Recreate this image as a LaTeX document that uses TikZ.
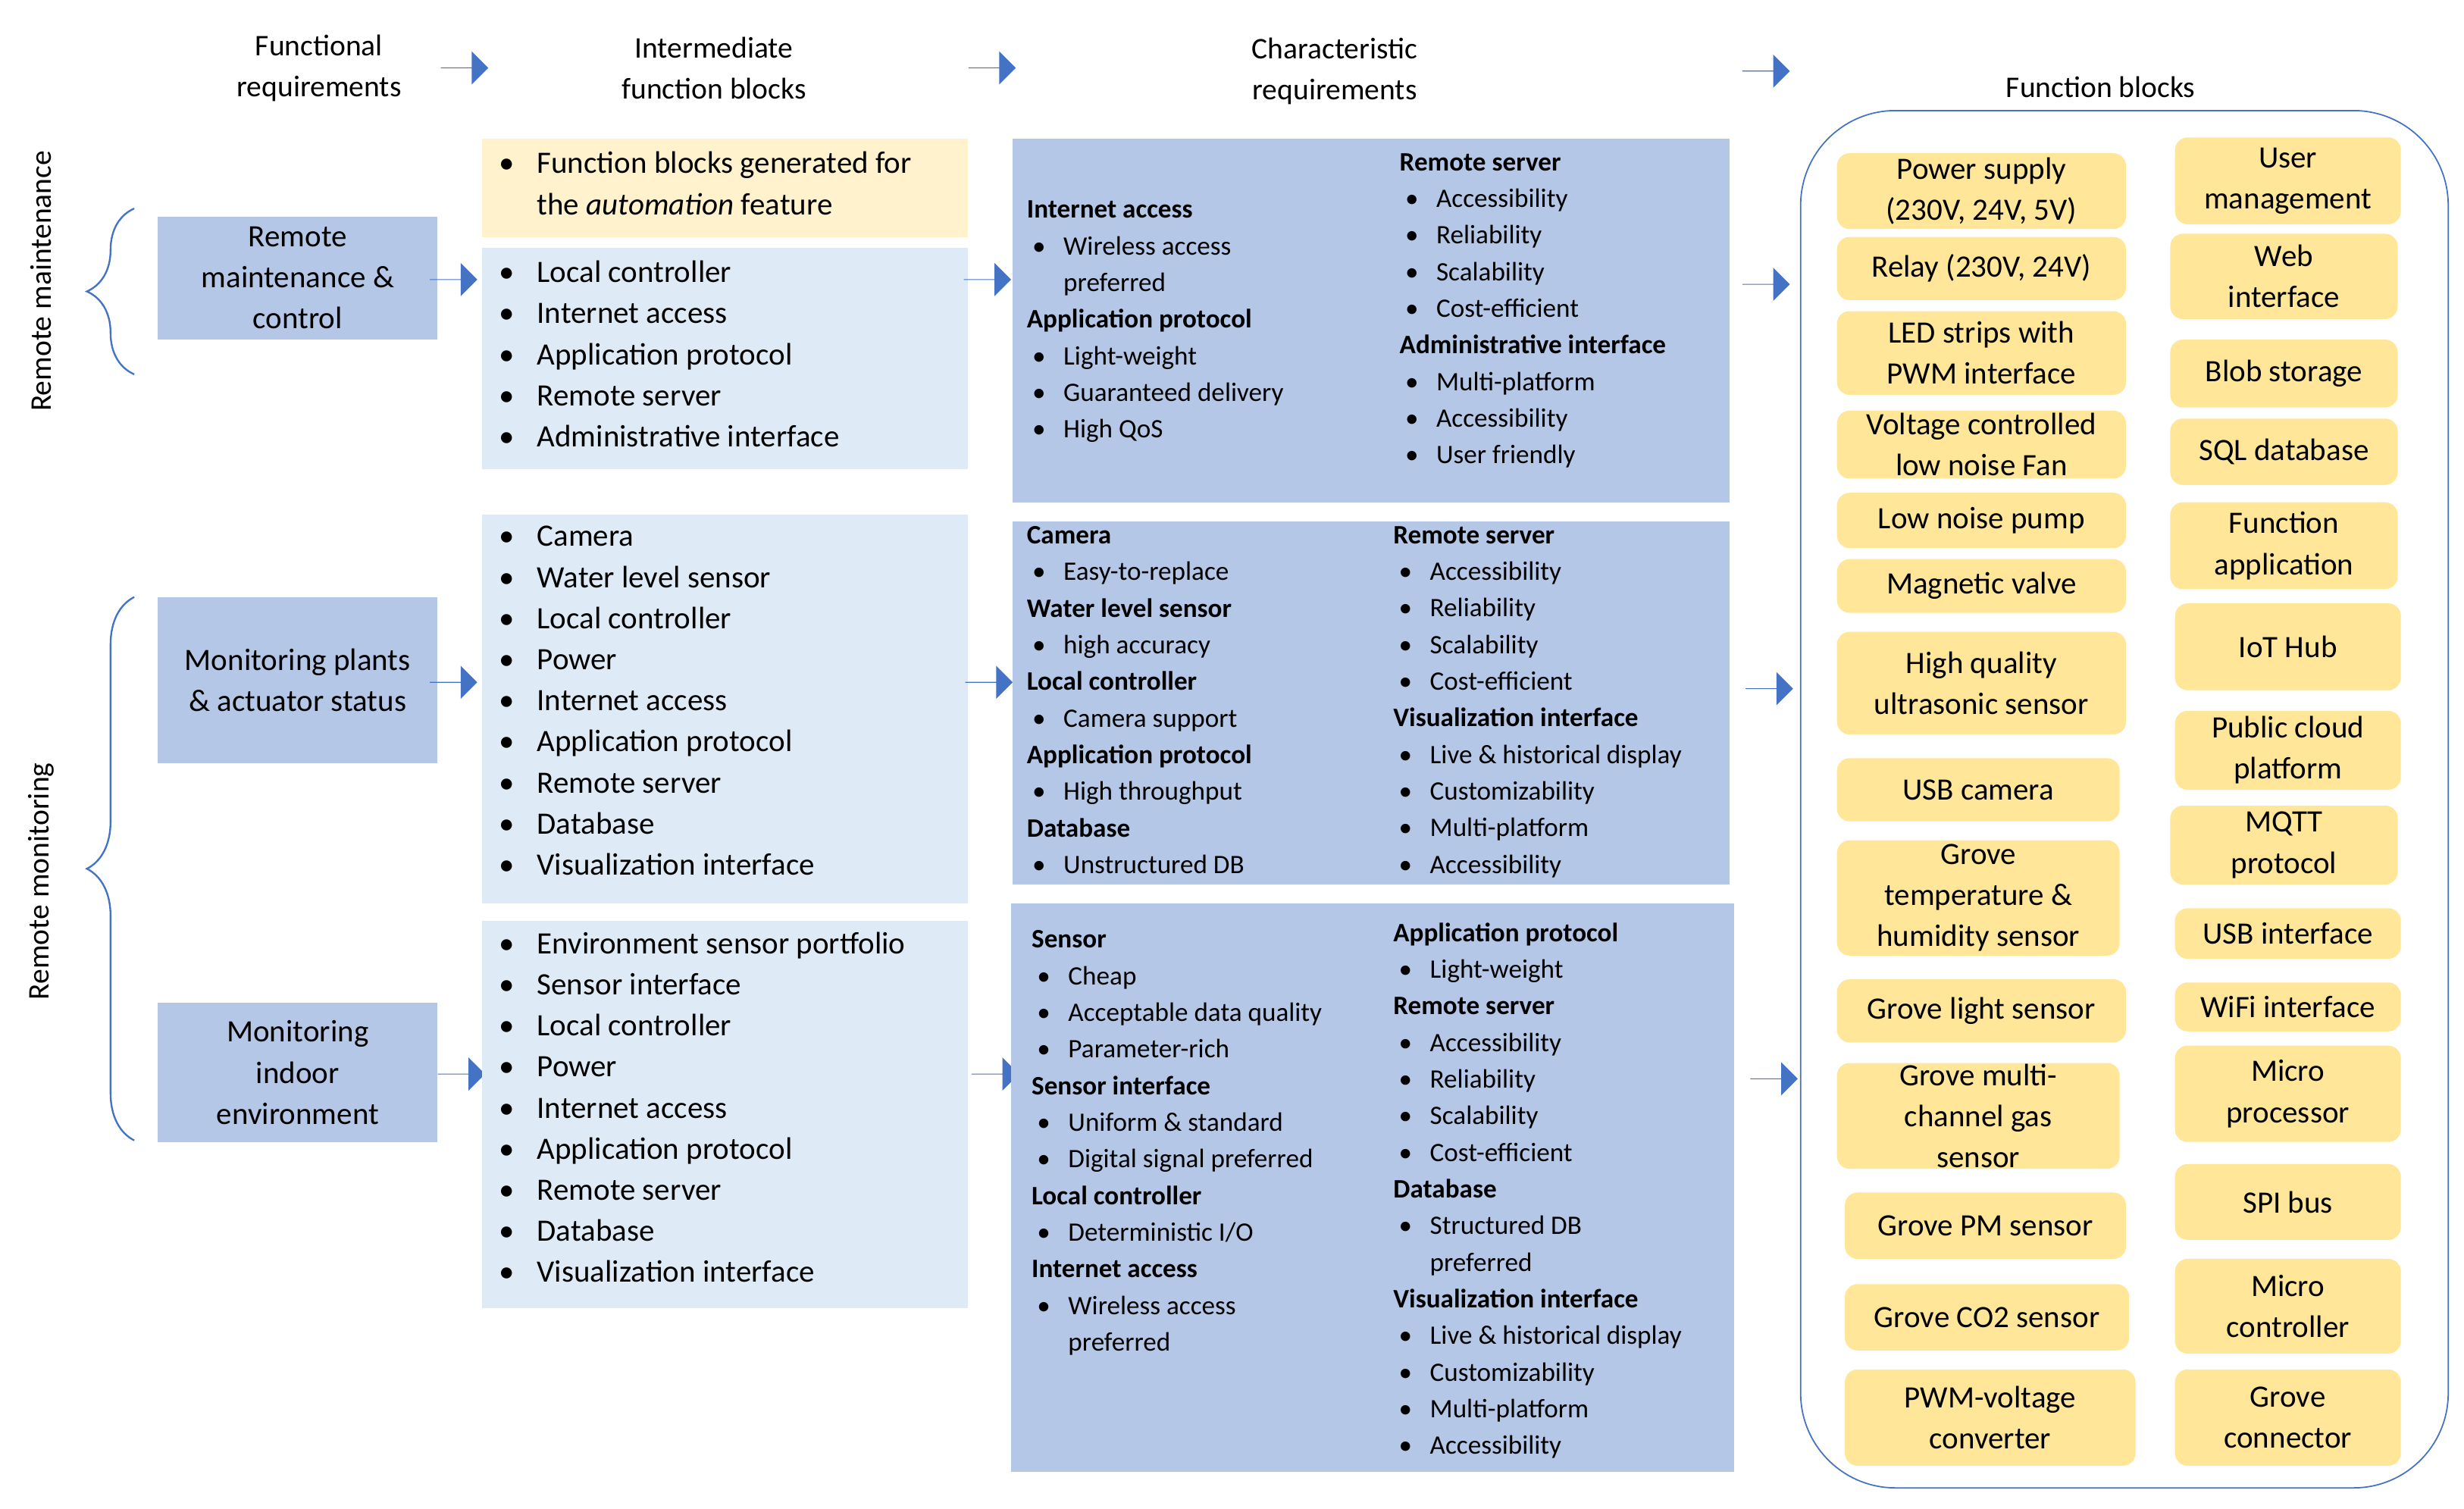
\documentclass[tikz,border=0pt]{standalone}
\usepackage{fontspec}
\setmainfont{Carlito}
\usetikzlibrary{shapes.arrows,decorations.pathreplacing}
\definecolor{arr}{HTML}{4472C4}
\definecolor{midb}{HTML}{B4C7E7}
\definecolor{lightb}{HTML}{DEEBF7}
\definecolor{lighty}{HTML}{FFF2CC}
\definecolor{fby}{HTML}{FFE699}
\newcommand\bi{\hspace*{5pt}\makebox[28pt][l]{\textbullet}}
\newcommand\bc{\hspace*{5pt}\makebox[28pt][l]{}}
\newcommand\ib{\makebox[34pt][l]{\textbullet}}
\tikzset{
  px/.style={x=0.05cm,y=-0.05cm},
  arw/.style={single arrow,fill=arr,draw=none,inner sep=0pt,minimum height=1.5cm,minimum width=1.05cm,single arrow head extend=0.25cm},
  hdr/.style={font=\fontsize{27}{37}\selectfont,align=center},
  big/.style={fill=midb},
  inter/.style={fill=lightb},
  ilist/.style={anchor=north west,inner sep=0pt,align=left,font=\fontsize{28}{37}\selectfont},
  clist/.style={anchor=north west,inner sep=0pt,align=left,font=\fontsize{24}{33}\selectfont},
  fb/.style={fill=fby,rounded corners=0.4cm,inner sep=0pt,align=center,font=\fontsize{28}{37}\selectfont},
  req/.style={fill=midb,inner sep=0pt,align=center,font=\fontsize{28}{37}\selectfont},
  brc/.style={draw=arr,line width=1.6pt,decorate,decoration={brace,amplitude=1.5cm}},
}
\newcommand\fblk[6]{\node[fb,minimum width={(#4-#2)*0.05cm},minimum height={(#5-#3)*0.05cm}] (#1) at ({(#2+#4)/2},{(#3+#5)/2}) {#6};}
\newcommand\rblk[6]{\node[req,minimum width={(#4-#2)*0.05cm},minimum height={(#5-#3)*0.05cm}] (#1) at ({(#2+#4)/2},{(#3+#5)/2}) {#6};}
\begin{document}
\begin{tikzpicture}[px]
\useasboundingbox (0,0) rectangle (1560,955);
% headers
\node[hdr] (h1) at (202,43) {Functional\\requirements};
\node[hdr] (h2) at (452,43) {Intermediate\\function blocks};
\node[hdr] (h3) at (845,45) {Characteristic\\requirements};
\node[hdr] (h4) at (1330,55) {Function blocks};
\node[arw] (ah1) at (294,43) {};
\node[arw] (ah2) at (628,43) {};
\node[arw] (ah3) at (1118,45) {};
% side labels
\node[hdr,rotate=90] (sl1) at (26,178) {Remote maintenance};
\node[hdr,rotate=90] (sl2) at (26,558) {Remote monitoring};
\draw[brc] (85,237) -- (85,132);
\draw[brc] (85,722) -- (85,378);
% requirement boxes
\rblk{r1}{100}{137}{277}{215}{Remote\\maintenance \&\\control}
\rblk{r2}{100}{378}{277}{483}{Monitoring plants\\\& actuator status}
\rblk{r3}{100}{635}{277}{723}{Monitoring\\indoor\\environment}
\node[arw] (a11) at (287,177) {};
\node[arw] (a12) at (287,432) {};
\node[arw] (a13) at (292,680) {};
% intermediate
\fill[lighty] (305,88) rectangle (613,150);
\node[ilist] (iy) at (316,96) {\ib Function blocks generated for\\\makebox[34pt]{}the \textit{automation} feature};
\fill[lightb] (305,157) rectangle (613,297);
\node[ilist] (i1) at (316,165) {\ib Local controller\\\ib Internet access\\\ib Application protocol\\\ib Remote server\\\ib Administrative interface};
\fill[lightb] (305,326) rectangle (613,572);
\node[ilist] (i2) at (316,333) {\ib Camera\\\ib Water level sensor\\\ib Local controller\\\ib Power\\\ib Internet access\\\ib Application protocol\\\ib Remote server\\\ib Database\\\ib Visualization interface};
\fill[lightb] (305,583) rectangle (613,828);
\node[ilist] (i3) at (316,590) {\ib Environment sensor portfolio\\\ib Sensor interface\\\ib Local controller\\\ib Power\\\ib Internet access\\\ib Application protocol\\\ib Remote server\\\ib Database\\\ib Visualization interface};
\node[arw] (a21) at (625,177) {};
\node[arw] (a22) at (626,432) {};
\node[arw] (a23) at (630,680) {};
% characteristic
\fill[midb] (641,88) rectangle (1095,318);
\node[clist] (c1l) at (650,127) {\textbf{Internet access}\\\bi Wireless access\\\bc preferred\\\textbf{Application protocol}\\\bi Light-weight\\\bi Guaranteed delivery\\\bi High QoS};
\node[clist] (c1r) at (886,97) {\textbf{Remote server}\\\bi Accessibility\\\bi Reliability\\\bi Scalability\\\bi Cost-efficient\\\textbf{Administrative interface}\\\bi Multi-platform\\\bi Accessibility\\\bi User friendly};
\fill[midb] (641,330) rectangle (1095,560);
\node[clist] (c2l) at (650,333) {\textbf{Camera}\\\bi Easy-to-replace\\\textbf{Water level sensor}\\\bi high accuracy\\\textbf{Local controller}\\\bi Camera support\\\textbf{Application protocol}\\\bi High throughput\\\textbf{Database}\\\bi Unstructured DB};
\node[clist] (c2r) at (882,333) {\textbf{Remote server}\\\bi Accessibility\\\bi Reliability\\\bi Scalability\\\bi Cost-efficient\\\textbf{Visualization interface}\\\bi Live \& historical display\\\bi Customizability\\\bi Multi-platform\\\bi Accessibility};
\fill[midb] (640,572) rectangle (1098,932);
\node[clist] (c3l) at (653,589) {\textbf{Sensor}\\\bi Cheap\\\bi Acceptable data quality\\\bi Parameter-rich\\\textbf{Sensor interface}\\\bi Uniform \& standard\\\bi Digital signal preferred\\\textbf{Local controller}\\\bi Deterministic I/O\\\textbf{Internet access}\\\bi Wireless access\\\bc preferred};
\node[clist] (c3r) at (882,584) {\textbf{Application protocol}\\\bi Light-weight\\\textbf{Remote server}\\\bi Accessibility\\\bi Reliability\\\bi Scalability\\\bi Cost-efficient\\\textbf{Database}\\\bi Structured DB\\\bc preferred\\\textbf{Visualization interface}\\\bi Live \& historical display\\\bi Customizability\\\bi Multi-platform\\\bi Accessibility};
\node[arw] (a31) at (1118,180) {};
\node[arw] (a32) at (1120,436) {};
\node[arw] (a33) at (1123,683) {};
% function blocks
\draw[arr,line width=1.2pt,rounded corners=3cm] (1140,70) rectangle (1550,942);
\fblk{f1}{1163}{97}{1346}{145}{Power supply\\(230V, 24V, 5V)}
\fblk{f2}{1163}{150}{1346}{190}{Relay (230V, 24V)}
\fblk{f3}{1163}{197}{1346}{250}{LED strips with\\PWM interface}
\fblk{f4}{1163}{260}{1346}{303}{Voltage controlled\\low noise Fan}
\fblk{f5}{1163}{312}{1346}{347}{Low noise pump}
\fblk{f6}{1163}{354}{1346}{388}{Magnetic valve}
\fblk{f7}{1163}{400}{1346}{465}{High quality\\ultrasonic sensor}
\fblk{f8}{1163}{480}{1342}{520}{USB camera}
\fblk{f9}{1163}{532}{1342}{605}{Grove\\temperature \&\\humidity sensor}
\fblk{f10}{1163}{620}{1346}{660}{Grove light sensor}
\fblk{f11}{1163}{673}{1342}{740}{Grove multi-\\channel gas\\sensor}
\fblk{f12}{1168}{755}{1346}{797}{Grove PM sensor}
\fblk{f13}{1168}{813}{1348}{855}{Grove CO2 sensor}
\fblk{f14}{1168}{867}{1352}{928}{PWM-voltage\\converter}
\fblk{g1}{1377}{87}{1520}{142}{User\\management}
\fblk{g2}{1374}{148}{1518}{202}{Web\\interface}
\fblk{g3}{1374}{215}{1518}{258}{Blob storage}
\fblk{g4}{1374}{265}{1518}{307}{SQL database}
\fblk{g5}{1374}{318}{1518}{373}{Function\\application}
\fblk{g6}{1377}{382}{1520}{437}{IoT Hub}
\fblk{g7}{1377}{450}{1520}{500}{Public cloud\\platform}
\fblk{g8}{1374}{510}{1518}{560}{MQTT\\protocol}
\fblk{g9}{1377}{575}{1520}{607}{USB interface}
\fblk{g10}{1377}{622}{1520}{653}{WiFi interface}
\fblk{g11}{1377}{662}{1520}{723}{Micro\\processor}
\fblk{g12}{1377}{737}{1520}{785}{SPI bus}
\fblk{g13}{1377}{797}{1520}{857}{Micro\\controller}
\fblk{g14}{1377}{867}{1520}{928}{Grove\\connector}
\end{tikzpicture}
\end{document}
